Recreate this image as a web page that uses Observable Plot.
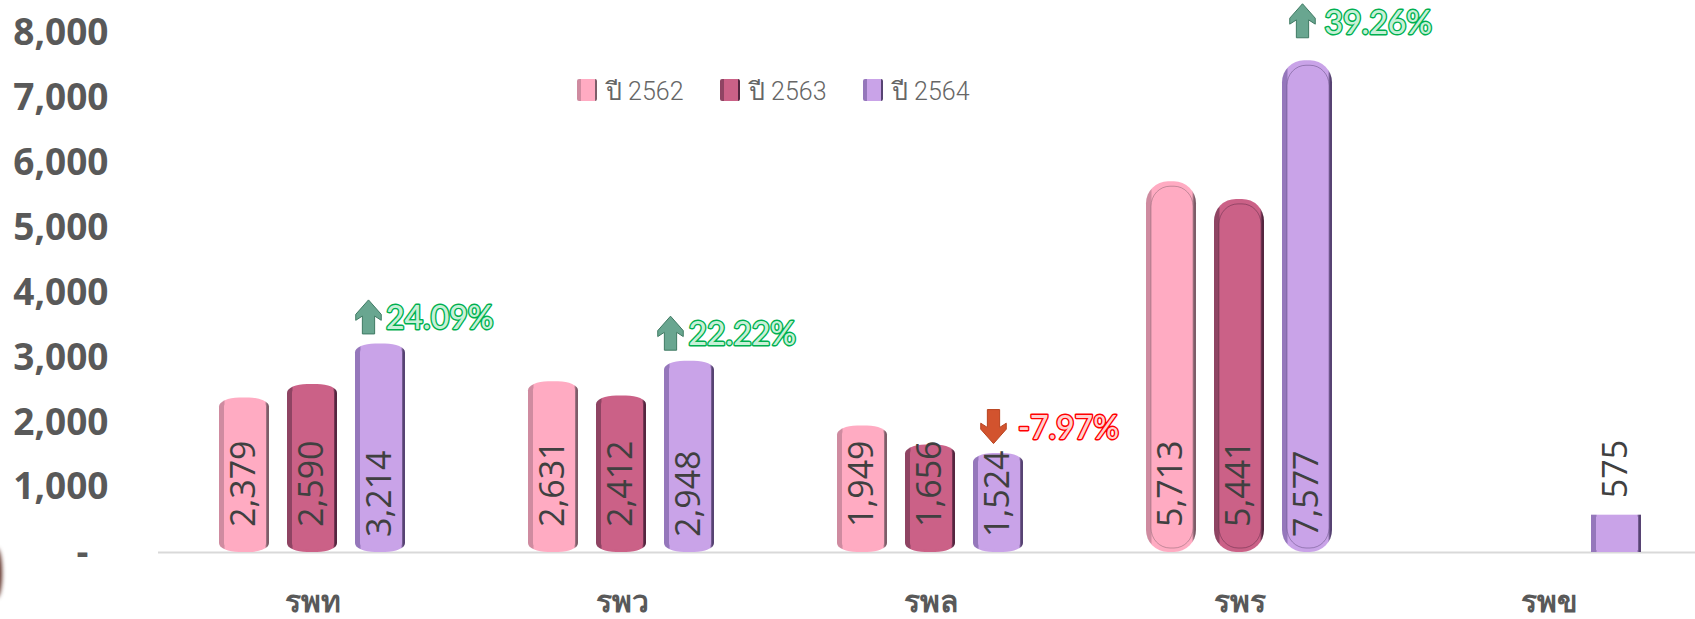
<!DOCTYPE html>
<html><head><meta charset="utf-8">
<script src="https://cdn.jsdelivr.net/npm/d3@7"></script>
<script src="https://cdn.jsdelivr.net/npm/@observablehq/plot@0.6"></script>
<style>
html,body{margin:0;padding:0;background:#fff;overflow:hidden}
#wrap{position:relative;width:1695px;height:619px}
#legend{position:absolute;left:0;top:0;font:300 25px Roboto,"Noto Sans",sans-serif;color:#666}
#legend .k{position:absolute;top:79px;width:20px;height:22px;border-radius:2px}
#legend .t{position:absolute;top:76px;white-space:nowrap;line-height:32px}
#blob{position:absolute;left:-9px;top:548px;width:11px;height:50px;border-radius:50%;background:#5a2a20;filter:blur(2px)}
</style></head><body>
<svg width="0" height="0" style="position:absolute">
<defs id="defs"></defs>
</svg>
<div id="wrap"><div id="blob"></div><div id="chart"></div><div id="legend"></div></div>
<script>
const hospitals = ["รพท","รพว","รพล","รพร","รพข"];
const years = ["ปี 2562","ปี 2563","ปี 2564"];
const v2562 = [2379,2631,1949,5713,null];
const v2563 = [2590,2412,1656,5441,null];
const v2564 = [3214,2948,1524,7577,575];
const pctText = ["24.09%","22.22%","-7.97%","39.26%"];
const pctDir = ["up","up","down","up"];
const yTicks = [1000,2000,3000,4000,5000,6000,7000,8000];

// look
const main = ["#ffabc2","#cb6187","#c9a3e8"];
const edgeL = ["#cf8ba0","#8f4463","#9577bb"];
const edgeR = ["#7d5d69","#552640","#574373"];
const K = 64.9, BASE = 552;

// gradients
document.getElementById("defs").innerHTML = years.map((_,i)=>`
<linearGradient id="edge${i}" x1="0" x2="1" y1="0" y2="0">
<stop offset="0" stop-color="${edgeL[i]}"/><stop offset=".1" stop-color="${edgeL[i]}"/>
<stop offset=".12" stop-color="${main[i]}"/><stop offset=".92" stop-color="${main[i]}"/>
<stop offset=".96" stop-color="${edgeR[i]}"/><stop offset="1" stop-color="${edgeR[i]}"/>
</linearGradient>`).join("");

const rows = hospitals.flatMap((h,i)=>[v2562,v2563,v2564].map((s,j)=>({h,year:years[j],j,value:s[i]}))).filter(d=>d.value!=null);

const tall = d=>d.h==="รพร", flat = d=>d.h==="รพข", mid = d=>!tall(d)&&!flat(d);
function barLayers(f, rx, ry, inset){
  const base = {fx:"h",x:"year",y:"value",filter:f};
  return [
    Plot.barY(rows,{...base,rx,ry,fill:d=>`url(#edge${d.j})`}),
    Plot.barY(rows,{...base,rx:Math.max(rx-3,0),ry:Math.max(ry-2,0),fill:d=>main[d.j],
      insetLeft:5,insetRight:3,insetTop:inset?5:2,insetBottom:inset?4:2}),
    Plot.barY(rows,{...base,rx:Math.max(rx-3,0),ry:Math.max(ry-2,0),fill:"none",stroke:d=>edgeR[d.j],strokeOpacity:inset?.45:0,strokeWidth:1,
      insetLeft:5,insetRight:3,insetTop:5,insetBottom:4})
  ];
}

// callouts: offsets are layout, kept apart from the values
const calloutLayout = [
  {adx:-12,ady:-27,tdx:5.5,tdy:-25},
  {adx:-19,ady:-28,tdx:-1,tdy:-26},
  {adx:-5,ady:-27,tdx:19.5,tdy:-25},
  {adx:-5,ady:-40,tdx:17,tdy:-37}
];
const callouts = pctText.map((t,i)=>({h:hospitals[i],year:years[2],value:v2564[i],text:t,dir:pctDir[i]}));
const arrowUp = {draw(c,s){const r=Math.sqrt(s);c.moveTo(0,-r);c.lineTo(r*.75,-r*.15);c.lineTo(r*.75,r*.2);c.lineTo(r*.36,-r*.05);c.lineTo(r*.36,r);c.lineTo(-r*.36,r);c.lineTo(-r*.36,-r*.05);c.lineTo(-r*.75,r*.2);c.lineTo(-r*.75,-r*.15);c.closePath();}};
const arrowDown = {draw(c,s){const r=Math.sqrt(s);c.moveTo(0,r);c.lineTo(r*.75,r*.15);c.lineTo(r*.75,-r*.2);c.lineTo(r*.36,r*.05);c.lineTo(r*.36,-r);c.lineTo(-r*.36,-r);c.lineTo(-r*.36,r*.05);c.lineTo(-r*.75,-r*.2);c.lineTo(-r*.75,r*.15);c.closePath();}};
const calloutMarks = callouts.flatMap((d,i)=>{
  const L = calloutLayout[i], col = d.dir==="up"?"#00b050":"#ff0000", soft = d.dir==="up"?"#c8f0d8":"#ffd0d0";
  const t = {fx:"h",x:"year",y:"value",text:"text",textAnchor:"start",dx:L.tdx,dy:L.tdy,fontSize:32,fontFamily:"Lato",fontWeight:500};
  return [
    Plot.dot([d],{fx:"h",x:"year",y:"value",dx:L.adx,dy:L.ady,r:9.6,symbol:d.dir==="up"?arrowUp:arrowDown,
      fill:d.dir==="up"?"#69a690":"#d2532e",stroke:d.dir==="up"?"#3f7a63":"#b8431f",strokeWidth:1}),
    Plot.text([d],{...t,fill:col,stroke:col,strokeWidth:2.8}),
    Plot.text([d],{...t,fill:soft,stroke:"none"})
  ];
});

const labelStyle = {fx:"h",x:"year",y:"value",rotate:-90,textAnchor:"start",lineAnchor:"middle",
  text:d=>d3.format(",")(d.value),fill:"#404040",fontSize:34,fontFamily:"Open Sans"};

const plot = Plot.plot({
  width:1695,height:619,
  marginLeft:158,marginRight:0,marginTop:0,marginBottom:67,
  style:{background:"transparent",color:"#595959",overflow:"visible"},
  color:{type:"identity"},
  fx:{domain:hospitals,range:[157.5,1702.5],padding:0,label:null,axis:null},
  x:{domain:years,range:[312-102.75,312+102.75],paddingInner:.27,paddingOuter:.135,axis:null},
  y:{domain:[0,8000],range:[BASE,BASE-8*K],axis:null},
  marks:[
    Plot.ruleY([0],{stroke:"#d9d9d9",strokeWidth:2}),
    Plot.axisY({ticks:yTicks,tickFormat:d3.format(","),tickSize:0,tickPadding:50,dy:0,
      fontSize:37,fontWeight:700,fontFamily:"Open Sans",fill:"#595959",label:null}),
    Plot.axisY({ticks:[0],tickFormat:()=>"-",tickSize:0,tickPadding:70,dy:1,
      fontSize:37,fontWeight:700,fontFamily:"Open Sans",fill:"#595959",label:null}),
    Plot.axisFx({anchor:"bottom",tickSize:0,tickPadding:38,lineAnchor:"top",label:null,
      fontSize:30,fontWeight:700,fontFamily:"Noto Sans",fill:"#595959"}),
    ...barLayers(mid,20,9,false),
    ...barLayers(tall,22,22,true),
    ...barLayers(flat,0,0,false),
    Plot.text(rows,{...labelStyle,y:0,filter:d=>d.j<2,dy:-25.5}),
    Plot.text(rows,{...labelStyle,y:0,filter:d=>d.j===2&&d.value>1000,dy:-15.5}),
    Plot.text(rows,{...labelStyle,filter:d=>flat(d),dy:-17}),
    ...calloutMarks
  ]
});
document.getElementById("chart").appendChild(plot);

// legend
const lx = [577,720,863];
document.getElementById("legend").innerHTML = years.map((y,i)=>
 `<div class="k" style="left:${lx[i]}px;background:linear-gradient(90deg,${edgeL[i]} 0 20%,${main[i]} 20% 88%,${edgeR[i]} 88%)"></div>
  <div class="t" style="left:${lx[i]+29}px">${y}</div>`).join("");
</script>
</body></html>
